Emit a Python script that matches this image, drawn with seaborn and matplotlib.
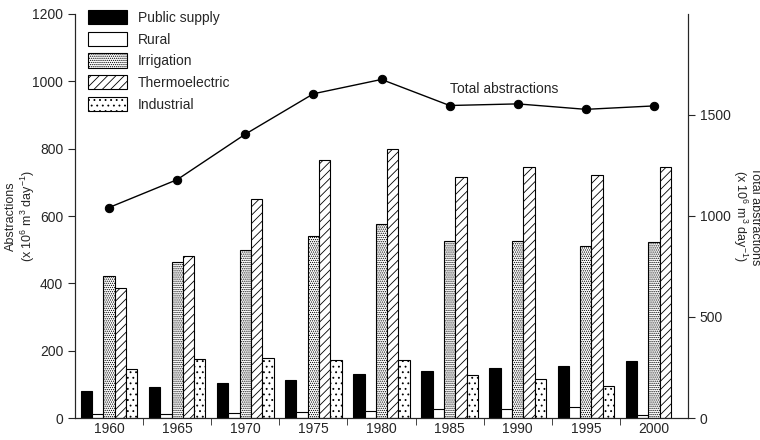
import pandas as pd
import numpy as np
import matplotlib
matplotlib.use('Agg')
import matplotlib.pyplot as plt
import seaborn as sns
from matplotlib.patches import Patch

# Data
years = ['1960', '1965', '1970', '1975', '1980', '1985', '1990', '1995', '2000']
sectors = ['Public supply', 'Rural', 'Irrigation', 'Thermoelectric', 'Industrial']
public_supply = [80, 93, 105, 112, 131, 140, 150, 154, 168]
rural = [12, 13, 15, 17, 20, 28, 28, 33, 8]
irrigation = [423, 462, 500, 540, 577, 527, 525, 512, 522]
thermoelectric = [385, 480, 650, 765, 800, 715, 745, 723, 745]
industrial = [145, 175, 178, 172, 172, 127, 115, 96, np.nan]
total = [1042, 1180, 1405, 1605, 1676, 1547, 1555, 1528, 1545]

fills = ['black', 'white', 'white', 'white', 'white']
hatches = ['', '', '........', '////', '...']

sns.set_style('ticks')
plt.rcParams['font.family'] = ['Liberation Sans', 'DejaVu Sans']
plt.rcParams['mathtext.default'] = 'regular'
plt.rcParams['hatch.linewidth'] = 0.6

rows = []
for name, vals in zip(sectors, [public_supply, rural, irrigation, thermoelectric, industrial]):
    for yr, v in zip(years, vals):
        if not np.isnan(v):
            rows.append({'Year': yr, 'Sector': name, 'Value': v})
df = pd.DataFrame(rows)

fig = plt.figure(figsize=(7.6, 4.4), dpi=100)
ax = fig.add_axes([75/760, 22/440, 613/760, 404/440])

sns.barplot(data=df, x='Year', y='Value', hue='Sector', order=years, hue_order=sectors,
            width=0.83, ax=ax, edgecolor='black', linewidth=0.8, legend=False)

for cont, fc, h in zip(ax.containers, fills, hatches):
    for bar in cont:
        bar.set_facecolor(fc)
        bar.set_hatch(h)
        bar.set_edgecolor('black')

ax.set_xlim(-0.5, 8.5)
ax.set_ylim(0, 1200)
ax.set_yticks(range(0, 1201, 200))
ax.set_xlabel('')
ax.set_ylabel('Abstractions\n(x 10$^6$ m$^3$ day$^{-1}$)', fontsize=9, va='center',
              linespacing=1.1)
ax.yaxis.set_label_coords(-0.088, 0.5)
ax.tick_params(axis='x', which='major', length=0, labelsize=10, pad=3)
ax.set_xticks(np.arange(0.5, 8.0, 1.0), minor=True)
ax.tick_params(axis='x', which='minor', length=5, direction='out')
ax.tick_params(axis='y', length=5, labelsize=10)
ax.spines['top'].set_visible(False)

ax2 = ax.twinx()
sns.lineplot(x=np.arange(len(years)), y=total, ax=ax2, color='black', linewidth=1,
             marker='o', markersize=6, markeredgecolor='black')
ax2.set_ylim(0, 2000)
ax2.set_yticks([0, 500, 1000, 1500])
ax2.set_ylabel('Total abstractions\n(x 10$^6$ m$^3$ day$^{-1}$)', fontsize=9,
               rotation=270, va='center', linespacing=1.0)
ax2.yaxis.set_label_coords(1.095, 0.5)
ax2.tick_params(axis='y', length=5, labelsize=10)
ax2.spines['top'].set_visible(False)
ax2.text(5.0, 1630, 'Total abstractions', fontsize=10, ha='left', va='center')

handles = [Patch(facecolor=fc, edgecolor='black', hatch=h, linewidth=0.8, label=s)
           for s, fc, h in zip(sectors, fills, hatches)]
fig.legend(handles=handles, loc='upper left', bbox_to_anchor=(88/760, 1 - 10/440),
           frameon=False, fontsize=10, handlelength=2.8, handleheight=1.2,
           labelspacing=0.5, handletextpad=0.8, borderpad=0, borderaxespad=0)

fig.savefig('out.png', dpi=100)
